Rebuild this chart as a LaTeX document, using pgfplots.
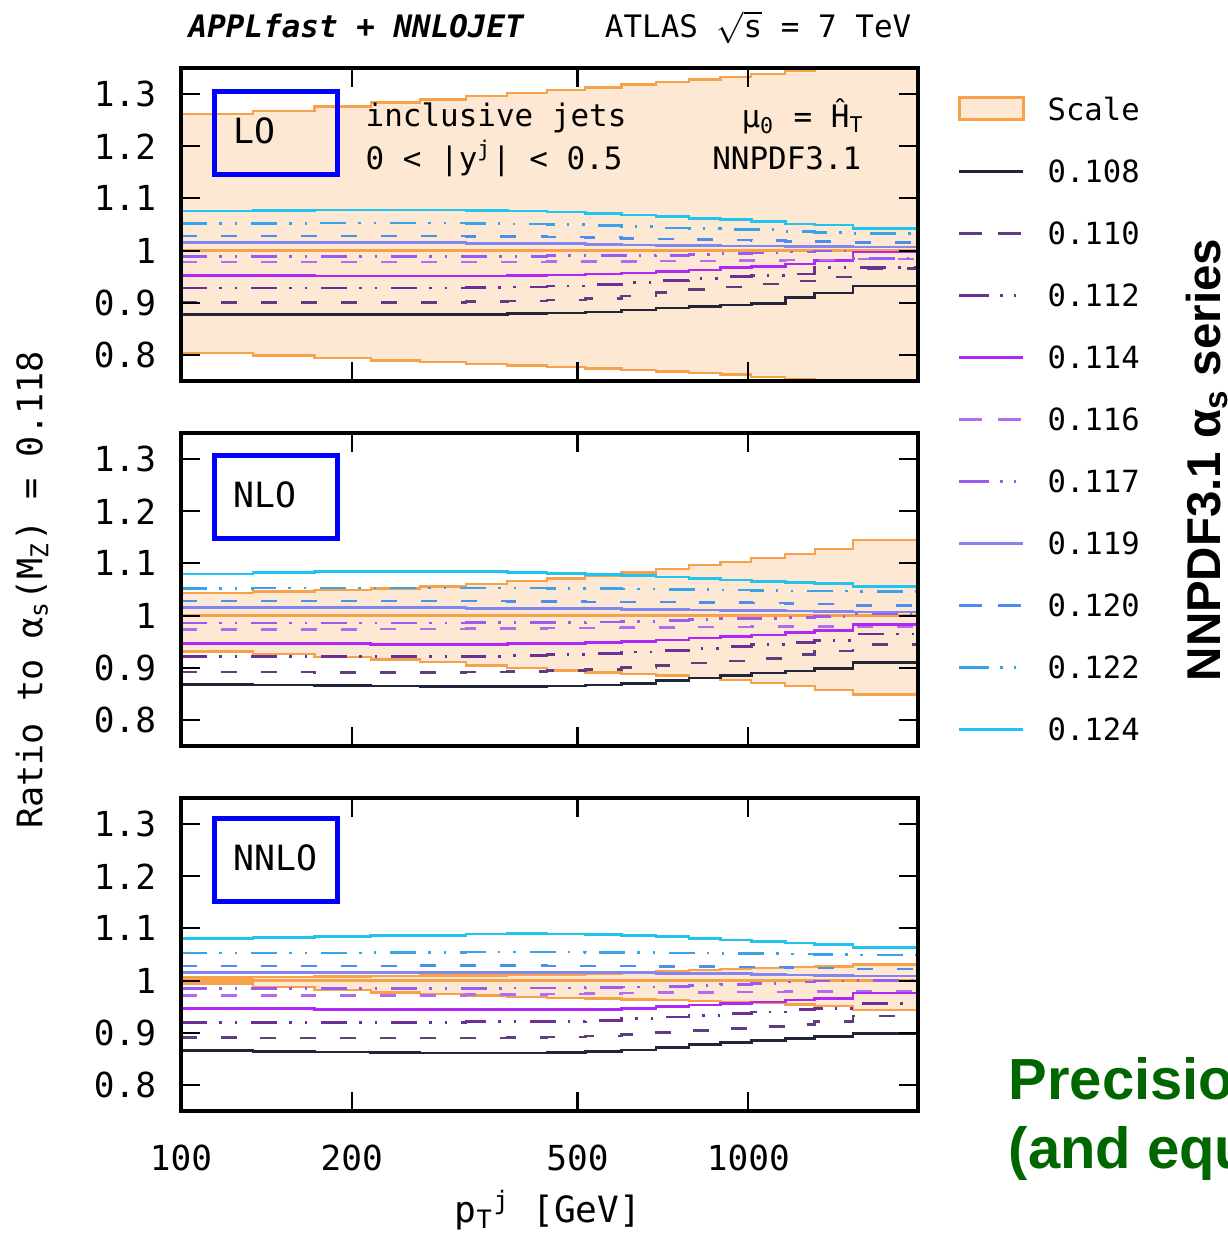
\documentclass[border=0pt]{standalone}
\usepackage{fontspec}
\setmainfont{DejaVu Sans Mono}[BoldFont={DejaVu Sans Mono Bold},ItalicFont={DejaVu Sans Mono Oblique},BoldItalicFont={DejaVu Sans Mono Bold Oblique}]
\newfontfamily\arialfont{Liberation Sans}
\usepackage{pgfplots}
\pgfplotsset{compat=1.18}
\usepackage{pgfplotstable}

\definecolor{c108}{HTML}{25253A}
\definecolor{c110}{HTML}{5E3E7E}
\definecolor{c112}{HTML}{6B2F96}
\definecolor{c114}{HTML}{B227F5}
\definecolor{c116}{HTML}{B36BF0}
\definecolor{c117}{HTML}{9A5CF0}
\definecolor{c119}{HTML}{8585F0}
\definecolor{c120}{HTML}{4C8EF0}
\definecolor{c122}{HTML}{3AA3E8}
\definecolor{c124}{HTML}{22C3EE}
\definecolor{bandc}{HTML}{F7A24A}
\definecolor{bandfill}{HTML}{FDE9D3}
\definecolor{boxblue}{HTML}{0000FF}
\definecolor{precgreen}{HTML}{006600}

\tikzset{
  lw/.style={line width=0.75pt},
  dsh/.style={dash pattern=on 1.6mm off 2.4mm},
  ddd/.style={dash pattern=on 2.6mm off 1.2mm on 0.25mm off 1.3mm on 0.25mm off 1.4mm},
  s108/.style={lw, color=c108, solid},
  s110/.style={lw, color=c110, dsh},
  s112/.style={lw, color=c112, ddd},
  s114/.style={lw, color=c114, solid},
  s116/.style={lw, color=c116, dsh},
  s117/.style={lw, color=c117, ddd},
  s119/.style={lw, color=c119, solid},
  s120/.style={lw, color=c120, dsh},
  s122/.style={lw, color=c122, ddd},
  s124/.style={lw, color=c124, solid},
  bandline/.style={line width=0.7pt, color=bandc},
}

% bin lower edges (last row closes the last bin)
\pgfplotstableread{
x    lo    up    c108  c110  c112  c114  c116  c117  c119  c120  c122  c124
100  0.804 1.262 0.877 0.901 0.928 0.952 0.978 0.989 1.015 1.028 1.052 1.076
134  0.799 1.268 0.877 0.901 0.928 0.952 0.978 0.989 1.015 1.028 1.052 1.077
172  0.794 1.276 0.877 0.901 0.928 0.951 0.978 0.989 1.015 1.028 1.053 1.078
216  0.789 1.284 0.877 0.901 0.928 0.951 0.978 0.989 1.015 1.028 1.053 1.078
264  0.786 1.290 0.878 0.901 0.928 0.951 0.978 0.989 1.015 1.028 1.053 1.078
318  0.783 1.296 0.878 0.902 0.929 0.951 0.978 0.989 1.014 1.027 1.052 1.077
376  0.780 1.302 0.879 0.903 0.930 0.952 0.978 0.989 1.014 1.027 1.051 1.076
442  0.777 1.308 0.880 0.905 0.932 0.953 0.979 0.990 1.013 1.026 1.050 1.074
516  0.774 1.313 0.882 0.908 0.935 0.955 0.979 0.990 1.012 1.025 1.048 1.071
598  0.771 1.318 0.886 0.913 0.939 0.957 0.979 0.990 1.011 1.023 1.046 1.068
688  0.768 1.323 0.890 0.920 0.943 0.960 0.980 0.991 1.010 1.022 1.043 1.065
786  0.765 1.328 0.893 0.925 0.946 0.963 0.980 0.992 1.010 1.021 1.042 1.062
894  0.762 1.333 0.896 0.930 0.950 0.967 0.981 0.994 1.009 1.020 1.041 1.059
1012 0.758 1.338 0.899 0.936 0.952 0.970 0.981 0.995 1.009 1.019 1.040 1.056
1162 0.754 1.345 0.910 0.942 0.955 0.974 0.982 0.997 1.008 1.018 1.037 1.051
1310 0.748 1.352 0.919 0.949 0.968 0.981 0.982 0.999 1.008 1.017 1.035 1.049
1530 0.740 1.360 0.932 0.966 0.968 0.997 0.984 0.985 1.007 1.016 1.033 1.042
1992 0.740 1.360 0.932 0.966 0.968 0.997 0.984 0.985 1.007 1.016 1.033 1.042
}\tabLO

\pgfplotstableread{
x    lo    up    c108  c110  c112  c114  c116  c117  c119  c120  c122  c124
100  0.931 1.043 0.868 0.892 0.921 0.947 0.973 0.986 1.015 1.028 1.052 1.080
134  0.926 1.046 0.867 0.892 0.921 0.946 0.973 0.986 1.015 1.028 1.053 1.082
172  0.921 1.049 0.866 0.891 0.921 0.946 0.973 0.986 1.015 1.028 1.053 1.084
216  0.916 1.052 0.865 0.891 0.921 0.945 0.974 0.986 1.015 1.028 1.053 1.085
264  0.911 1.056 0.864 0.891 0.921 0.945 0.974 0.986 1.015 1.028 1.053 1.085
318  0.904 1.061 0.864 0.892 0.922 0.945 0.975 0.987 1.014 1.028 1.053 1.084
376  0.899 1.066 0.864 0.893 0.923 0.946 0.975 0.987 1.014 1.027 1.053 1.083
442  0.895 1.071 0.865 0.895 0.925 0.947 0.976 0.987 1.014 1.027 1.052 1.081
516  0.891 1.077 0.867 0.897 0.927 0.948 0.976 0.988 1.013 1.026 1.052 1.079
598  0.888 1.083 0.870 0.900 0.930 0.950 0.977 0.989 1.012 1.026 1.051 1.077
688  0.885 1.089 0.875 0.904 0.933 0.953 0.977 0.990 1.012 1.026 1.050 1.074
786  0.880 1.097 0.880 0.909 0.937 0.957 0.978 0.992 1.011 1.025 1.050 1.071
894  0.876 1.103 0.885 0.913 0.941 0.960 0.978 0.994 1.010 1.025 1.049 1.068
1012 0.871 1.110 0.890 0.918 0.945 0.963 0.979 0.995 1.010 1.024 1.048 1.065
1162 0.865 1.118 0.894 0.926 0.949 0.967 0.979 0.996 1.009 1.023 1.047 1.063
1310 0.857 1.128 0.899 0.932 0.952 0.972 0.979 0.998 1.008 1.022 1.047 1.061
1530 0.849 1.145 0.910 0.945 0.965 0.983 0.978 1.004 1.007 1.019 1.046 1.056
1992 0.849 1.145 0.910 0.945 0.965 0.983 0.978 1.004 1.007 1.019 1.046 1.056
}\tabNLO

\pgfplotstableread{
x    lo    up    c108  c110  c112  c114  c116  c117  c119  c120  c122  c124
100  0.994 1.006 0.866 0.891 0.920 0.947 0.971 0.985 1.015 1.028 1.053 1.081
134  0.988 1.007 0.864 0.890 0.920 0.946 0.971 0.985 1.015 1.028 1.053 1.083
172  0.982 1.008 0.863 0.890 0.920 0.945 0.972 0.985 1.015 1.028 1.053 1.085
216  0.977 1.009 0.862 0.890 0.920 0.945 0.972 0.985 1.015 1.028 1.054 1.086
264  0.974 1.010 0.861 0.890 0.920 0.944 0.972 0.985 1.015 1.029 1.054 1.087
318  0.971 1.010 0.861 0.890 0.921 0.944 0.973 0.985 1.015 1.029 1.055 1.089
376  0.969 1.011 0.861 0.891 0.921 0.944 0.973 0.986 1.015 1.029 1.055 1.090
442  0.967 1.012 0.862 0.892 0.922 0.944 0.974 0.986 1.015 1.028 1.055 1.089
516  0.966 1.013 0.864 0.894 0.924 0.945 0.975 0.987 1.015 1.028 1.054 1.088
598  0.964 1.015 0.867 0.897 0.927 0.947 0.976 0.988 1.015 1.028 1.054 1.086
688  0.963 1.017 0.872 0.900 0.930 0.950 0.977 0.989 1.014 1.027 1.053 1.084
786  0.961 1.020 0.877 0.904 0.933 0.953 0.977 0.991 1.013 1.027 1.053 1.081
894  0.959 1.022 0.881 0.908 0.937 0.956 0.978 0.993 1.013 1.026 1.052 1.078
1012 0.957 1.024 0.885 0.912 0.940 0.959 0.978 0.995 1.012 1.026 1.052 1.075
1162 0.954 1.026 0.889 0.916 0.944 0.963 0.979 0.997 1.011 1.025 1.051 1.072
1310 0.951 1.027 0.893 0.921 0.947 0.966 0.979 0.999 1.010 1.024 1.050 1.069
1530 0.944 1.031 0.899 0.932 0.956 0.976 0.980 1.000 1.009 1.022 1.049 1.064
1992 0.944 1.031 0.899 0.932 0.956 0.976 0.980 1.000 1.009 1.022 1.049 1.064
}\tabNNLO

\newcommand{\panelplots}[1]{%
  \addplot[const plot, fill=bandfill, draw=none, forget plot] table[x=x, y=up] {#1} \closedcycle;
  \addplot[const plot, fill=white, draw=none, forget plot] table[x=x, y=lo] {#1} \closedcycle;
  \addplot[const plot, bandline, forget plot] table[x=x, y=up] {#1};
  \addplot[const plot, bandline, forget plot] table[x=x, y=lo] {#1};
  \addplot[bandline, forget plot] coordinates {(100,1) (1992,1)};
  \addplot[const plot, s108, forget plot] table[x=x, y=c108] {#1};
  \addplot[const plot, s110, forget plot] table[x=x, y=c110] {#1};
  \addplot[const plot, s112, forget plot] table[x=x, y=c112] {#1};
  \addplot[const plot, s114, forget plot] table[x=x, y=c114] {#1};
  \addplot[const plot, s116, forget plot] table[x=x, y=c116] {#1};
  \addplot[const plot, s117, forget plot] table[x=x, y=c117] {#1};
  \addplot[const plot, s119, forget plot] table[x=x, y=c119] {#1};
  \addplot[const plot, s120, forget plot] table[x=x, y=c120] {#1};
  \addplot[const plot, s122, forget plot] table[x=x, y=c122] {#1};
  \addplot[const plot, s124, forget plot] table[x=x, y=c124] {#1};
}

\begin{document}
\begin{tikzpicture}
% LO
\begin{axis}[at={(1.81cm,-0.68cm)}, anchor=north west,
  scale only axis, width=7.37cm, height=3.13cm, axis on top,
  xmode=log, xmin=100, xmax=1992, ymin=0.75, ymax=1.35,
  xtick={100,200,500,1000}, minor xtick={},
  ytick={0.8,0.9,1,1.1,1.2,1.3}, yticklabels={0.8,0.9,1,1.1,1.2,1.3},
  xticklabels={},
  tick align=inside, major tick length=1.9mm,
  axis line style={line width=0.9pt},
  major tick style={black, line width=0.6pt},
  yticklabel style={font=\fontsize{9.8}{11}\selectfont, xshift=-1.25mm}]
  \panelplots{\tabLO}
\end{axis}
% NLO
\begin{axis}[at={(1.81cm,-4.33cm)}, anchor=north west,
  scale only axis, width=7.37cm, height=3.13cm, axis on top,
  xmode=log, xmin=100, xmax=1992, ymin=0.75, ymax=1.35,
  xtick={100,200,500,1000}, minor xtick={},
  ytick={0.8,0.9,1,1.1,1.2,1.3}, yticklabels={0.8,0.9,1,1.1,1.2,1.3},
  xticklabels={},
  tick align=inside, major tick length=1.9mm,
  axis line style={line width=0.9pt},
  major tick style={black, line width=0.6pt},
  yticklabel style={font=\fontsize{9.8}{11}\selectfont, xshift=-1.25mm}]
  \panelplots{\tabNLO}
\end{axis}
% NNLO
\begin{axis}[at={(1.81cm,-7.98cm)}, anchor=north west,
  scale only axis, width=7.37cm, height=3.13cm, axis on top,
  xmode=log, xmin=100, xmax=1992, ymin=0.75, ymax=1.35,
  xtick={100,200,500,1000}, minor xtick={},
  ytick={0.8,0.9,1,1.1,1.2,1.3}, yticklabels={0.8,0.9,1,1.1,1.2,1.3},
  xticklabels={100,200,500,1000},
  tick align=inside, major tick length=1.9mm,
  axis line style={line width=0.9pt},
  major tick style={black, line width=0.6pt},
  yticklabel style={font=\fontsize{9.8}{11}\selectfont, xshift=-1.25mm},
  xticklabel style={font=\fontsize{9.8}{11}\selectfont, yshift=-2.2mm}]
  \panelplots{\tabNNLO}
\end{axis}

% legend, drawn by an empty axis over the right-hand strip
\begin{axis}[at={(9.18cm,-0.68cm)}, anchor=north west, scale only axis,
  width=2cm, height=3.13cm, hide axis, xmin=0, xmax=1, ymin=0, ymax=1,
  legend style={at={(0.2,0.909)}, anchor=north west, draw=none, fill=none,
    inner sep=0pt, outer sep=0pt, row sep=3.9mm, column sep=2.3mm,
    font=\fontsize{8.7}{10}\selectfont,
    nodes={inner sep=0pt, text height=2.3mm, text depth=0mm}},
  legend cell align=left]
  \addlegendimage{legend image code/.code={\draw[draw=bandc, fill=bandfill, line width=0.7pt] (0cm,-0.11cm) rectangle (0.64cm,0.11cm);}}
  \addlegendentry{Scale}
  \addlegendimage{legend image code/.code={\draw[s108] (0cm,0cm) -- (0.64cm,0cm);}}\addlegendentry{0.108}
  \addlegendimage{legend image code/.code={\draw[s110, dash pattern=on 2.3mm off 1.6mm] (0cm,0cm) -- (0.64cm,0cm);}}\addlegendentry{0.110}
  \addlegendimage{legend image code/.code={\draw[s112, dash pattern=on 3mm off 1.1mm on 0.25mm off 1.1mm on 0.25mm off 2mm] (0cm,0cm) -- (0.64cm,0cm);}}\addlegendentry{0.112}
  \addlegendimage{legend image code/.code={\draw[s114] (0cm,0cm) -- (0.64cm,0cm);}}\addlegendentry{0.114}
  \addlegendimage{legend image code/.code={\draw[s116, dash pattern=on 2.3mm off 1.6mm] (0cm,0cm) -- (0.64cm,0cm);}}\addlegendentry{0.116}
  \addlegendimage{legend image code/.code={\draw[s117, dash pattern=on 3mm off 1.1mm on 0.25mm off 1.1mm on 0.25mm off 2mm] (0cm,0cm) -- (0.64cm,0cm);}}\addlegendentry{0.117}
  \addlegendimage{legend image code/.code={\draw[s119] (0cm,0cm) -- (0.64cm,0cm);}}\addlegendentry{0.119}
  \addlegendimage{legend image code/.code={\draw[s120, dash pattern=on 2.3mm off 1.6mm] (0cm,0cm) -- (0.64cm,0cm);}}\addlegendentry{0.120}
  \addlegendimage{legend image code/.code={\draw[s122, dash pattern=on 3mm off 1.1mm on 0.25mm off 1.1mm on 0.25mm off 2mm] (0cm,0cm) -- (0.64cm,0cm);}}\addlegendentry{0.122}
  \addlegendimage{legend image code/.code={\draw[s124] (0cm,0cm) -- (0.64cm,0cm);}}\addlegendentry{0.124}
\end{axis}

% order boxes
\foreach \yt/\lab in {0.92/LO, 4.55/NLO, 8.18/NNLO} {
  \draw[boxblue, line width=0.5mm] (2.145,-\yt) rectangle (3.375,-\yt-0.83);
  \node[anchor=base west, inner sep=0pt, font=\fontsize{9.9}{11}\selectfont] at (2.33,-\yt-0.52) {\lab};
}

% annotations
\node[anchor=base west, inner sep=0pt, font=\fontsize{8.8}{10}\selectfont] at (3.65,-1.27) {inclusive jets};
\node[anchor=base west, inner sep=0pt, font=\fontsize{8.8}{10}\selectfont] at (3.65,-1.70) {0 < |y\textsuperscript{j}| < 0.5};
\node[anchor=base east, inner sep=0pt, font=\fontsize{8.8}{10}\selectfont] at (8.65,-1.28) {μ\textsubscript{0} = Ĥ\textsubscript{T}};
\node[anchor=base east, inner sep=0pt, font=\fontsize{8.8}{10}\selectfont] at (8.62,-1.70) {NNPDF3.1};

% titles
\node[anchor=base west, inner sep=0pt, font=\fontsize{8.8}{10}\selectfont\bfseries\itshape] at (1.88,-0.38) {APPLfast + NNLOJET};
\node[anchor=base east, inner sep=0pt, font=\fontsize{8.8}{10}\selectfont] at (9.12,-0.38) {ATLAS \ensuremath{\sqrt{\mbox{s}}} = 7 TeV};

% axis labels
\node[rotate=90, inner sep=0pt, font=\fontsize{10}{12}\selectfont] at (0.32,-5.9) {Ratio to α\textsubscript{s}(M\textsubscript{Z}) = 0.118};
\node[anchor=base, inner sep=0pt, font=\fontsize{10.3}{12}\selectfont] at (5.48,-12.22) {p\textsubscript{T}\textsuperscript{j} [GeV]};

% side texts
\node[rotate=90, inner sep=0pt, font=\arialfont\bfseries\fontsize{13.5}{15}\selectfont] at (12.07,-4.6) {NNPDF3.1 α\textsubscript{s} series};
\node[anchor=base west, inner sep=0pt, align=left, font=\arialfont\bfseries\fontsize{16.5}{19.5}\selectfont, text=precgreen] at (10.08,-11.68) {Precision\\(and equally};

\pgfresetboundingbox
\useasboundingbox (0,0) rectangle (12.28,-12.33);
\end{tikzpicture}
\end{document}
